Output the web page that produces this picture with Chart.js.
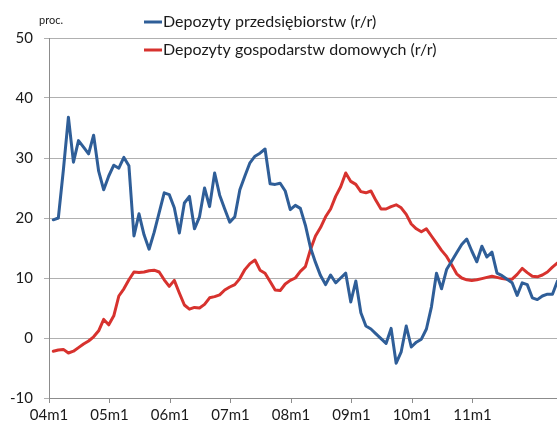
<!DOCTYPE html>
<html>
<head>
<meta charset="utf-8">
<script src="https://cdn.jsdelivr.net/npm/chart.js@4/dist/chart.umd.min.js"></script>
<style>
  html, body { margin: 0; padding: 0; background: #ffffff; }
  #wrap { width: 557px; height: 428px; }
</style>
</head>
<body>
<div id="wrap"><canvas id="chart" width="557" height="428"></canvas></div>
<script>
// Year labels shown on the category axis (one per January)
const yearLabels = ['04m1', '05m1', '06m1', '07m1', '08m1', '09m1', '10m1', '11m1'];

// Series names
const seriesNames = ['Depozyty przedsiębiorstw (r/r)', 'Depozyty gospodarstw domowych (r/r)'];

// Enterprise deposits, y/y %, monthly from 2004m1
const enterpriseDeposits = [
  19.7, 20.0, 28.0, 36.8, 29.3, 32.9, 31.8, 30.7, 33.8, 27.8,
  24.7, 27.0, 28.8, 28.3, 30.1, 28.7, 17.0, 20.7, 17.2, 14.8,
  17.6, 20.9, 24.2, 23.9, 21.7, 17.5, 22.5, 23.6, 18.2, 20.2,
  25.0, 21.9, 27.5, 23.8, 21.5, 19.3, 20.2, 24.7, 27.0, 29.2,
  30.3, 30.8, 31.5, 25.7, 25.6, 25.8, 24.5, 21.4, 22.1, 21.6,
  18.8, 15.1, 12.6, 10.4, 8.9, 10.5, 9.2, 10.0, 10.8, 6.0,
  9.5, 4.2, 2.0, 1.5, 0.7, -0.1, -0.9, 1.6, -4.2, -2.3,
  2.0, -1.5, -0.7, -0.2, 1.5, 5.2, 10.8, 8.2, 11.4, 12.8,
  14.2, 15.6, 16.5, 14.5, 12.7, 15.3, 13.5, 14.3, 10.8, 10.4,
  9.8, 9.2, 7.1, 9.2, 8.9, 6.7, 6.4, 7.0, 7.3, 7.3,
  9.5
];

// Household deposits, y/y %, monthly from 2004m1
const householdDeposits = [
  -2.2, -2.0, -1.9, -2.5, -2.2, -1.6, -1.0, -0.5, 0.2, 1.2,
  3.1, 2.2, 3.7, 7.0, 8.2, 9.7, 11.0, 10.9, 11.0, 11.2,
  11.3, 11.0, 9.7, 8.6, 9.6, 7.5, 5.5, 4.8, 5.1, 5.0,
  5.6, 6.7, 6.9, 7.2, 8.0, 8.5, 8.9, 9.9, 11.4, 12.4,
  13.0, 11.3, 10.8, 9.4, 8.0, 7.9, 9.0, 9.6, 10.0, 11.1,
  11.9, 14.7, 17.0, 18.4, 20.2, 21.5, 23.6, 25.2, 27.5, 26.1,
  25.6, 24.4, 24.2, 24.5, 22.9, 21.5, 21.5, 21.9, 22.2, 21.7,
  20.6, 19.0, 18.2, 17.7, 18.2, 17.0, 15.8, 14.6, 13.6, 12.2,
  10.7, 10.0, 9.7, 9.6, 9.7, 9.9, 10.1, 10.3, 10.1, 9.9,
  9.8, 9.8, 10.6, 11.6, 10.9, 10.3, 10.2, 10.5, 11.0, 11.8,
  12.5
];

const FONT = 'Lato, "Open Sans", sans-serif';
const TEXT = '#1a1a1a';
const BLUE = '#2f5e98';
const RED = '#d7322e';

// month axis range: starts a little before 04m1
const X_MIN = -0.85;
const X_MAX = 99.9;

const toPoints = arr => arr.map((v, i) => ({ x: i, y: v }));

// Legend drawn inside the plot, stacked, plus the unit label
const overlayText = {
  id: 'overlayText',
  afterDraw(chart) {
    const ctx = chart.ctx;
    ctx.save();
    ctx.font = '11px ' + FONT;
    ctx.fillStyle = TEXT;
    ctx.textAlign = 'left';
    ctx.textBaseline = 'middle';
    ctx.fillText('proc.', 39, 20);

    const rows = [22, 50];
    chart.data.datasets.forEach((ds, i) => {
      const y = rows[i];
      ctx.strokeStyle = ds.borderColor;
      ctx.lineWidth = 3;
      ctx.beginPath();
      ctx.moveTo(144, y);
      ctx.lineTo(162, y);
      ctx.stroke();
      ctx.font = '16px ' + FONT;
      ctx.fillStyle = TEXT;
      ctx.fillText(ds.label, 163, y);
    });
    ctx.restore();
  }
};

new Chart(document.getElementById('chart'), {
  type: 'line',
  data: {
    datasets: [
      {
        label: seriesNames[0],
        data: toPoints(enterpriseDeposits),
        borderColor: BLUE,
        backgroundColor: BLUE,
        borderWidth: 3,
        pointRadius: 0,
        tension: 0,
        borderJoinStyle: 'round',
        borderCapStyle: 'round'
      },
      {
        label: seriesNames[1],
        data: toPoints(householdDeposits),
        borderColor: RED,
        backgroundColor: RED,
        borderWidth: 3,
        pointRadius: 0,
        tension: 0,
        borderJoinStyle: 'round',
        borderCapStyle: 'round'
      }
    ]
  },
  options: {
    responsive: false,
    animation: false,
    devicePixelRatio: 1,
    layout: { padding: { top: 38, right: 0, bottom: 0, left: 0 } },
    plugins: {
      legend: { display: false },
      tooltip: { enabled: false }
    },
    scales: {
      x: {
        type: 'linear',
        min: X_MIN,
        max: X_MAX,
        afterBuildTicks(scale) {
          scale.ticks = yearLabels.map((_, k) => ({ value: X_MIN + k * 12 }));
        },
        afterFit(scale) { scale.height = 30; },
        ticks: {
          autoSkip: false,
          maxRotation: 0,
          padding: 3,
          color: TEXT,
          font: { family: FONT, size: 15 },
          callback: (value, index) => yearLabels[index]
        },
        grid: {
          drawOnChartArea: false,
          drawTicks: true,
          tickLength: 5,
          color: '#8c8c8c'
        },
        border: { color: '#8c8c8c', width: 1 }
      },
      y: {
        min: -10,
        max: 50,
        afterFit(scale) { scale.width = 49; },
        ticks: {
          stepSize: 10,
          padding: 11,
          color: TEXT,
          font: { family: FONT, size: 15 }
        },
        grid: {
          color: '#b0b0b0',
          lineWidth: 1,
          tickLength: 5
        },
        border: { color: '#8c8c8c', width: 1 }
      }
    }
  },
  plugins: [overlayText]
});
</script>
</body>
</html>
